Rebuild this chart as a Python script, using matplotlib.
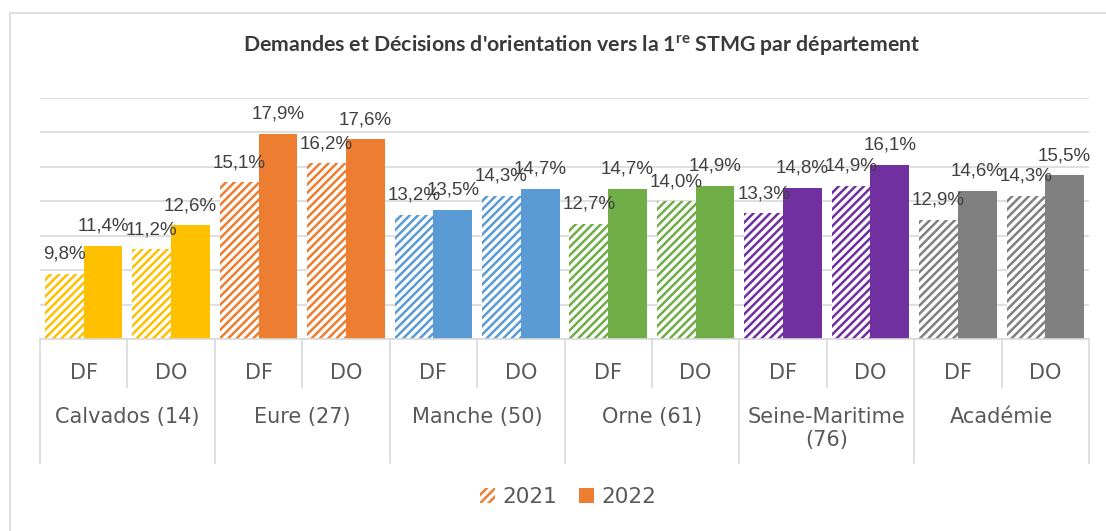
import matplotlib
matplotlib.use("Agg")
import matplotlib.pyplot as plt
from matplotlib.patches import Patch, Rectangle
from matplotlib.lines import Line2D

# data (percent)
departements = ["Calvados (14)", "Eure (27)", "Manche (50)", "Orne (61)",
                "Seine-Maritime\n(76)", "Académie"]
types = ["DF", "DO"]
valeurs_2021 = [9.8, 11.2, 15.1, 16.2, 13.2, 14.3, 12.7, 14.0, 13.3, 14.9, 12.9, 14.3]
valeurs_2022 = [11.4, 12.6, 17.9, 17.6, 13.5, 14.7, 14.7, 14.9, 14.8, 16.1, 14.6, 15.5]
couleurs = ["#FFC000", "#ED7D31", "#5B9BD5", "#70AD47", "#7030A0", "#808080"]

plt.rcParams["hatch.linewidth"] = 1.8
plt.rcParams["mathtext.fontset"] = "custom"
plt.rcParams["mathtext.rm"] = "Lato:bold"

W, H = 1106, 531
fig = plt.figure(figsize=(W / 100, H / 100), dpi=100)
ax = fig.add_axes([40 / W, 1 - 339 / H, (1089 - 40) / W, (339 - 98) / H])

x = list(range(len(valeurs_2021)))
cols = [couleurs[i // 2] for i in x]
larg = 0.443

b1 = ax.bar([i - larg / 2 for i in x], valeurs_2021, width=larg, bottom=0,
            color="white", edgecolor=cols, hatch="////", linewidth=0)
b2 = ax.bar([i + larg / 2 for i in x], valeurs_2022, width=larg, color=cols, linewidth=0)

for bars, vals in [(b1, valeurs_2021), (b2, valeurs_2022)]:
    for b, v in zip(bars, vals):
        ax.annotate(f"{v:.1f}%".replace(".", ","),
                    (b.get_x() + b.get_width() / 2, v),
                    xytext=(0, 11), textcoords="offset points",
                    ha="center", va="baseline", fontsize=13.5,
                    family="Liberation Sans", color="#404040")

ax.set_ylim(6, 20)
ax.set_xlim(-0.5, len(x) - 0.5)
ax.set_yticks(range(6, 21, 2))
ax.set_yticklabels([])
ax.set_xticks([])
ax.tick_params(length=0)
ax.grid(axis="y", color="#D9D9D9", linewidth=1.2)
ax.set_axisbelow(True)
for s in ["top", "right", "left"]:
    ax.spines[s].set_visible(False)
ax.spines["bottom"].set_color("#D9D9D9")
ax.spines["bottom"].set_linewidth(1.2)

# two-level category axis
tr = ax.get_xaxis_transform()
px = 1 / (339 - 98)
for i in x:
    ax.text(i, -34 * px, types[i % 2], transform=tr, ha="center", va="center",
            fontsize=15, color="#595959")
for k, d in enumerate(departements):
    ax.text(2 * k + 0.5, -68 * px, d, transform=tr, ha="center", va="top",
            fontsize=15, color="#595959", linespacing=1.2)
for k in range(len(departements)):
    ax.add_line(Line2D([2 * k + 0.5] * 2, [0, -48 * px], transform=tr,
                       color="#D9D9D9", lw=1.2, clip_on=False))
for k in range(len(departements) + 1):
    ax.add_line(Line2D([2 * k - 0.5] * 2, [0, -124 * px], transform=tr,
                       color="#D9D9D9", lw=1.2, clip_on=False))

fig.text(582 / W, 1 - 46 / H,
         "Demandes et Décisions d'orientation vers la $1^{\\mathrm{re}}$ STMG par département",
         ha="center", va="center", fontsize=15.3, family="Lato", weight="bold",
         color="#3A3A3A")

handles = [Patch(facecolor="white", edgecolor="#ED7D31", hatch="////", linewidth=0),
           Patch(facecolor="#ED7D31", linewidth=0)]
fig.legend(handles, ["2021", "2022"], loc="center", ncol=2, frameon=False,
           bbox_to_anchor=(568 / W, 1 - 497 / H), fontsize=15.5,
           labelcolor="#595959", handlelength=0.7, handleheight=0.7,
           handletextpad=0.35, columnspacing=1.0)

fig.patches.append(Rectangle((10 / W, -0.1), 2, 1 - 13 / H + 0.1, transform=fig.transFigure,
                             fill=False, edgecolor="#D9D9D9", linewidth=1.2))

fig.savefig("out.png", dpi=100)
